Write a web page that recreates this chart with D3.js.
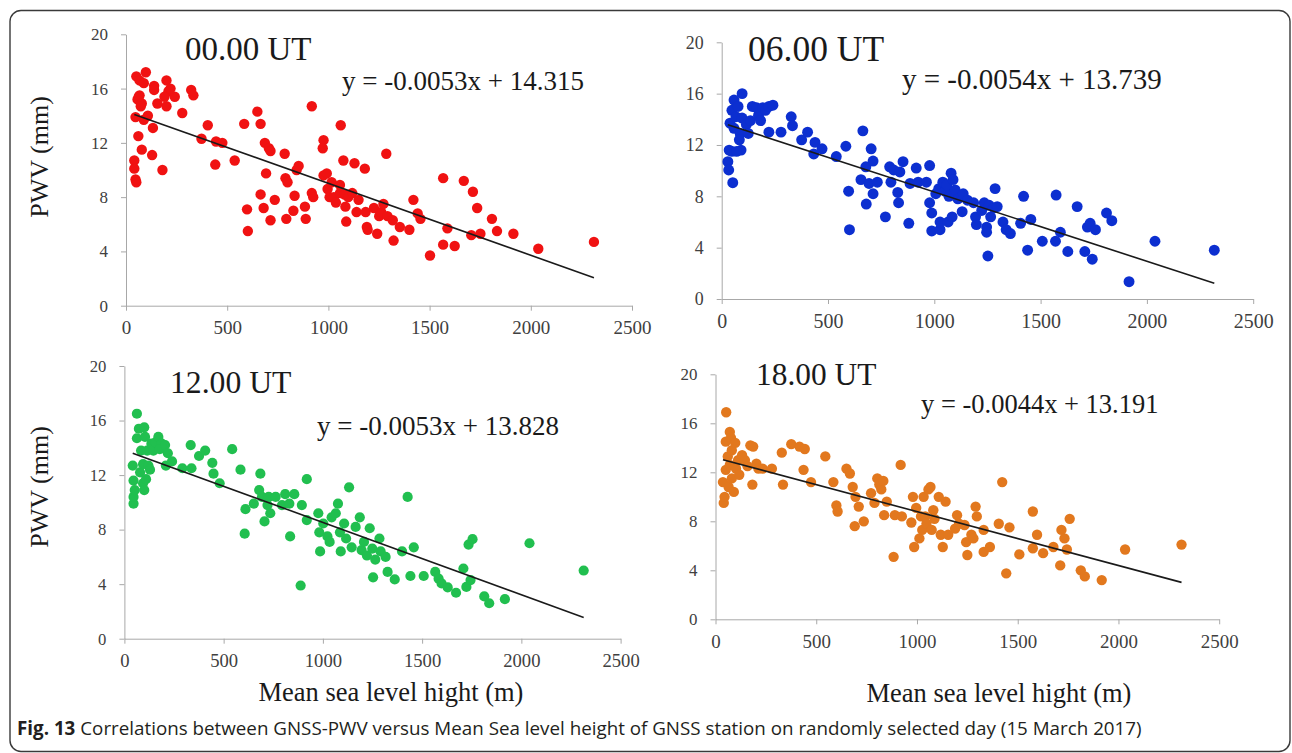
<!DOCTYPE html>
<html>
<head>
<meta charset="utf-8">
<script src="https://cdn.jsdelivr.net/npm/d3@7"></script>
<style>
  body { margin: 0; background: #fff; }
  .domain, .tick line { stroke: #a8a8a8; }
  svg .tick text { font-family: "Liberation Serif", serif !important; }
</style>
</head>
<body>
<svg id="fig" width="1292" height="753"></svg>
<script>
// Axis ticks shared by all four panels
const xTicks = [0, 500, 1000, 1500, 2000, 2500];
const yTicks = [0, 4, 8, 12, 16, 20];

// Observation times and fitted lines
const times = ["00.00 UT", "06.00 UT", "12.00 UT", "18.00 UT"];
const slopes = [-0.0053, -0.0054, -0.0053, -0.0044];
const intercepts = [14.315, 13.739, 13.828, 13.191];

// [station height (m), PWV (mm)]
const pts00 = [
  [41,10.7],[41,10.1],[47,9.3],[51,9.1],[51,16.9],[67,16.6],[63,15.4],[57,15.2],[67,15.5],[78,14.9],
  [73,14.7],[47,13.9],[88,13.7],[98,17.2],[108,14.0],[61,12.5],[78,11.5],[129,11.1],[133,13.1],[88,16.4],
  [139,16.2],[139,15.9],[155,14.9],[180,10.0],[200,16.6],[200,14.7],[210,15.8],[190,15.4],[241,15.4],[220,16.0],
  [278,14.2],[322,15.9],[333,15.5],[373,12.3],[404,13.3],[445,12.1],[476,12.0],[441,10.4],[537,10.7],[584,13.4],
  [598,7.1],[602,5.5],[649,14.3],[665,13.4],[665,8.2],[680,7.2],[686,12.0],[692,9.75],[706,11.6],[714,11.4],
  [714,6.3],[735,7.8],[784,11.2],[788,9.4],[798,9.1],[792,6.4],[827,7.0],[833,8.1],[843,10.0],[853,10.3],
  [884,7.3],[888,6.4],[918,8.3],[918,14.7],[925,8.0],[976,12.2],[972,11.6],[976,9.6],[992,9.75],[996,8.6],
  [1016,9.1],[1006,8.0],[1027,8.0],[1037,7.6],[1057,8.9],[1057,8.3],[1061,13.3],[1074,10.7],[1078,8.2],[1084,7.3],
  [1088,6.2],[1098,8.0],[1118,8.3],[1129,10.5],[1139,6.9],[1149,7.8],[1180,10.1],[1184,6.9],[1190,5.8],[1194,5.6],
  [1225,7.2],[1241,5.3],[1251,6.6],[1261,6.9],[1272,7.5],[1286,11.2],[1292,6.6],[1318,6.3],[1322,4.8],[1353,5.8],
  [1400,5.6],[1420,7.8],[1441,6.8],[1455,6.4],[1502,3.7],[1567,9.4],[1567,4.5],[1588,5.7],[1624,4.4],[1669,9.2],
  [1714,8.4],[1735,7.2],[1706,5.2],[1751,5.3],[1808,6.4],[1833,5.5],[1914,5.3],[2037,4.2],[2312,4.7]
];
const pts06 = [
  [29,10.7],[33,10.05],[52,9.06],[35,11.6],[48,11.5],[58,15.5],[48,14.7],[39,13.7],[67,14.2],[77,15.0],
  [58,13.3],[87,12.9],[83,12.4],[96,16.0],[96,14.1],[91,11.6],[70,11.5],[116,13.6],[125,12.9],[135,13.9],
  [144,15.0],[164,14.9],[173,14.3],[183,13.9],[193,14.9],[206,14.7],[222,15.0],[241,15.1],[222,13.0],[279,13.0],
  [327,14.2],[333,13.5],[376,12.4],[404,13.0],[439,12.2],[433,11.3],[472,11.7],[539,11.1],[584,11.9],[597,8.4],
  [601,5.4],[664,13.1],[655,9.3],[678,10.3],[680,7.4],[703,11.7],[712,10.75],[712,8.2],[693,9.0],[732,9.1],
  [770,6.4],[790,10.3],[796,9.1],[809,10.05],[828,8.3],[832,7.5],[838,9.9],[853,10.7],[880,5.9],[886,9.0],
  [915,10.2],[924,9.1],[963,9.1],[978,10.4],[978,7.5],[988,6.7],[988,5.3],[1007,8.2],[1021,8.6],[1027,5.4],
  [1027,6.0],[1040,9.1],[1050,8.4],[1059,8.9],[1065,6.0],[1069,8.0],[1079,9.8],[1084,6.4],[1088,9.3],[1098,8.5],
  [1111,7.8],[1131,6.8],[1136,8.2],[1156,7.7],[1185,7.5],[1194,6.4],[1198,5.8],[1223,6.9],[1235,7.5],[1246,5.6],
  [1246,5.2],[1252,3.35],[1258,7.3],[1265,6.4],[1281,7.1],[1286,8.6],[1296,7.2],[1323,6.0],[1338,5.4],[1358,5.1],
  [1406,5.9],[1420,8.0],[1439,3.8],[1454,6.2],[1508,4.5],[1570,4.5],[1573,8.1],[1593,5.2],[1628,3.7],[1672,7.2],
  [1708,3.7],[1720,5.6],[1733,5.9],[1743,3.1],[1758,5.4],[1810,6.7],[1835,6.1],[1916,1.35],[2038,4.5],[2317,3.8]
];
const pts12 = [
  [46,9.9],[46,10.4],[52,10.9],[42,12.7],[46,11.6],[63,16.5],[63,14.7],[73,15.4],[79,12.2],[84,13.8],
  [94,11.4],[100,15.5],[104,14.8],[94,12.8],[100,10.9],[109,11.7],[115,13.8],[121,12.7],[129,12.4],[136,14.3],
  [146,13.8],[157,14.4],[171,14.8],[188,14.3],[178,13.9],[205,14.2],[209,12.7],[219,13.6],[240,13.0],[292,12.5],
  [334,14.2],[338,12.5],[376,13.4],[407,13.8],[443,12.9],[449,12.1],[480,11.4],[543,13.9],[585,12.4],[606,7.7],
  [610,9.5],[652,9.9],[679,10.9],[685,12.1],[693,10.4],[706,8.6],[721,9.8],[727,10.4],[735,9.2],[762,10.4],
  [794,9.8],[810,10.6],[831,9.9],[835,7.5],[856,10.6],[888,3.9],[894,9.8],[919,11.7],[919,8.7],[977,9.2],
  [982,7.8],[986,6.4],[1002,8.45],[1023,7.5],[1034,7.1],[1044,8.9],[1065,9.2],[1076,9.9],[1086,7.8],[1090,6.4],
  [1107,8.45],[1117,7.35],[1132,11.1],[1145,6.7],[1165,8.2],[1186,8.9],[1195,6.5],[1207,7.1],[1222,6.1],[1236,8.1],
  [1249,6.6],[1253,4.5],[1264,5.8],[1285,7.35],[1291,6.4],[1316,6.0],[1326,4.9],[1362,4.35],[1399,6.4],[1427,10.4],
  [1441,4.6],[1458,6.7],[1508,4.6],[1566,4.9],[1583,4.4],[1598,4.05],[1629,3.76],[1671,3.37],[1708,5.15],[1723,3.8],
  [1734,6.9],[1754,7.3],[1744,4.3],[1813,3.1],[1838,2.6],[1917,2.9],[2041,7.0],[2314,5.0]
];
const pts18 = [
  [41,9.5],[45,10.0],[37,11.2],[51,12.2],[53,16.9],[51,14.5],[61,13.3],[65,10.8],[71,15.3],[77,14.8],
  [81,13.8],[71,12.6],[81,11.5],[91,10.4],[98,14.4],[102,12.3],[112,13.0],[118,11.8],[132,13.4],[146,13.0],
  [159,12.5],[173,14.2],[187,14.1],[183,11.0],[203,12.7],[213,12.3],[234,12.3],[280,12.3],[329,13.6],[335,11.0],
  [376,14.3],[417,14.1],[443,13.9],[437,12.2],[474,11.2],[545,13.3],[585,11.2],[600,9.3],[606,8.8],[650,12.3],
  [667,11.9],[681,10.8],[691,7.6],[695,10.0],[711,9.2],[736,8.0],[772,10.3],[789,9.5],[803,11.5],[813,11.0],
  [823,10.6],[833,11.3],[837,8.5],[850,9.6],[884,5.1],[890,8.5],[925,8.4],[919,12.6],[972,7.9],[980,10.0],
  [986,5.9],[996,9.1],[1012,6.6],[1020,8.4],[1026,7.3],[1033,10.0],[1041,8.4],[1047,7.8],[1057,10.6],[1067,10.8],
  [1073,7.3],[1081,8.9],[1087,8.2],[1108,10.0],[1118,6.9],[1128,5.9],[1142,9.6],[1155,6.9],[1189,7.4],[1199,8.5],
  [1209,7.8],[1236,7.7],[1244,6.3],[1250,5.25],[1270,6.9],[1280,6.6],[1291,9.2],[1297,8.4],[1331,7.3],[1331,5.5],
  [1362,5.9],[1406,7.8],[1423,11.2],[1443,3.75],[1459,7.5],[1508,5.3],[1575,8.8],[1575,5.8],[1596,6.9],[1626,5.4],
  [1677,5.9],[1711,4.4],[1717,7.3],[1732,6.6],[1744,5.7],[1758,8.2],[1813,4.0],[1833,3.5],[1917,3.2],[2033,5.7],
  [2313,6.1]
];

// Panel layout in page pixels
const panels = [
  { pts: pts00, color: "#f01212", xr: [126, 632], yr: [305.7, 34.3], k: 1.0,
    title: [185, 60, 33], eq: [342, 90, 27], ylab: [39, 157], xlab: null },
  { pts: pts06, color: "#0c2fd0", xr: [721.7, 1253.2], yr: [299, 42.3], k: 1.05,
    title: [748, 61, 35.5], eq: [902, 89, 29], ylab: null, xlab: null },
  { pts: pts12, color: "#21bf4f", xr: [124.4, 620.6], yr: [638.7, 366], k: 0.98,
    title: [170, 393, 31.7], eq: [317, 435, 27], ylab: [39, 487], xlab: [391, 701] },
  { pts: pts18, color: "#e2781e", xr: [715.5, 1219.2], yr: [619.3, 374.3], k: 0.995,
    title: [756, 385, 31.4], eq: [921, 413, 26.5], ylab: null, xlab: [999, 702] }
];

const svg = d3.select("#fig");
const serif = "Liberation Serif, serif";

// Outer frame
svg.append("rect")
  .attr("x", 10).attr("y", 10.5)
  .attr("width", 1280).attr("height", 741)
  .attr("rx", 11)
  .attr("fill", "none")
  .attr("stroke", "#3a3a3a")
  .attr("stroke-width", 1.4);

panels.forEach((p, i) => {
  let x = d3.scaleLinear().domain([0, 2500]).range(p.xr);
  let y = d3.scaleLinear().domain([0, 20]).range(p.yr);
  let g = svg.append("g");

  // X axis
  g.append("g")
    .attr("transform", "translate(0," + p.yr[0] + ")")
    .call(d3.axisBottom(x).tickValues(xTicks).tickFormat(d3.format("d"))
      .tickSize(5).tickSizeOuter(0).tickPadding(10))
    .attr("font-family", serif)
    .attr("font-size", 19 * p.k)
    .call(a => a.selectAll("text").attr("fill", "#404040"));

  // Y axis
  g.append("g")
    .attr("transform", "translate(" + p.xr[0] + ",0)")
    .call(d3.axisLeft(y).tickValues(yTicks).tickFormat(d3.format("d"))
      .tickSize(5).tickSizeOuter(0).tickPadding(13))
    .attr("font-family", serif)
    .attr("font-size", 17 * p.k)
    .call(a => a.selectAll("text").attr("fill", "#404040"));

  // Points
  g.selectAll("circle")
    .data(p.pts)
    .enter().append("circle")
    .attr("cx", d => x(d[0]))
    .attr("cy", d => y(d[1]))
    .attr("r", 5.2 * p.k)
    .attr("fill", p.color);

  // Trend line over the data range
  let ext = d3.extent(p.pts, d => d[0]);
  let line = d3.line().x(d => x(d)).y(d => y(slopes[i] * d + intercepts[i]));
  g.append("path")
    .attr("d", line(ext))
    .attr("fill", "none")
    .attr("stroke", "#1a1a1a")
    .attr("stroke-width", 1.6);

  // Time label
  g.append("text")
    .attr("x", p.title[0]).attr("y", p.title[1])
    .attr("font-family", serif)
    .attr("font-size", p.title[2])
    .attr("fill", "#1a1a1a")
    .text(times[i]);

  // Equation
  g.append("text")
    .attr("x", p.eq[0]).attr("y", p.eq[1])
    .attr("font-family", serif)
    .attr("font-size", p.eq[2])
    .attr("fill", "#1a1a1a")
    .text("y = " + slopes[i].toFixed(4) + "x + " + intercepts[i].toFixed(3));

  if (p.ylab) {
    g.append("text")
      .attr("text-anchor", "middle")
      .attr("transform", "translate(" + (p.ylab[0] + 9) + "," + p.ylab[1] + ") rotate(-90)")
      .attr("font-family", serif)
      .attr("font-size", 26)
      .attr("fill", "#1a1a1a")
      .text("PWV (mm)");
  }
  if (p.xlab) {
    g.append("text")
      .attr("text-anchor", "middle")
      .attr("x", p.xlab[0]).attr("y", p.xlab[1])
      .attr("font-family", serif)
      .attr("font-size", 26.5)
      .attr("fill", "#1a1a1a")
      .text("Mean sea level hight (m)");
  }
});

// Caption
let cap = svg.append("text")
  .attr("x", 17).attr("y", 735)
  .attr("font-family", "'Open Sans', 'Noto Sans', sans-serif")
  .attr("font-size", 18.8)
  .attr("fill", "#231f20");
cap.append("tspan").attr("font-weight", "bold").text("Fig. 13");
cap.append("tspan").text(" Correlations between GNSS-PWV versus Mean Sea level height of GNSS station on randomly selected day (15 March 2017)");
</script>
</body>
</html>
